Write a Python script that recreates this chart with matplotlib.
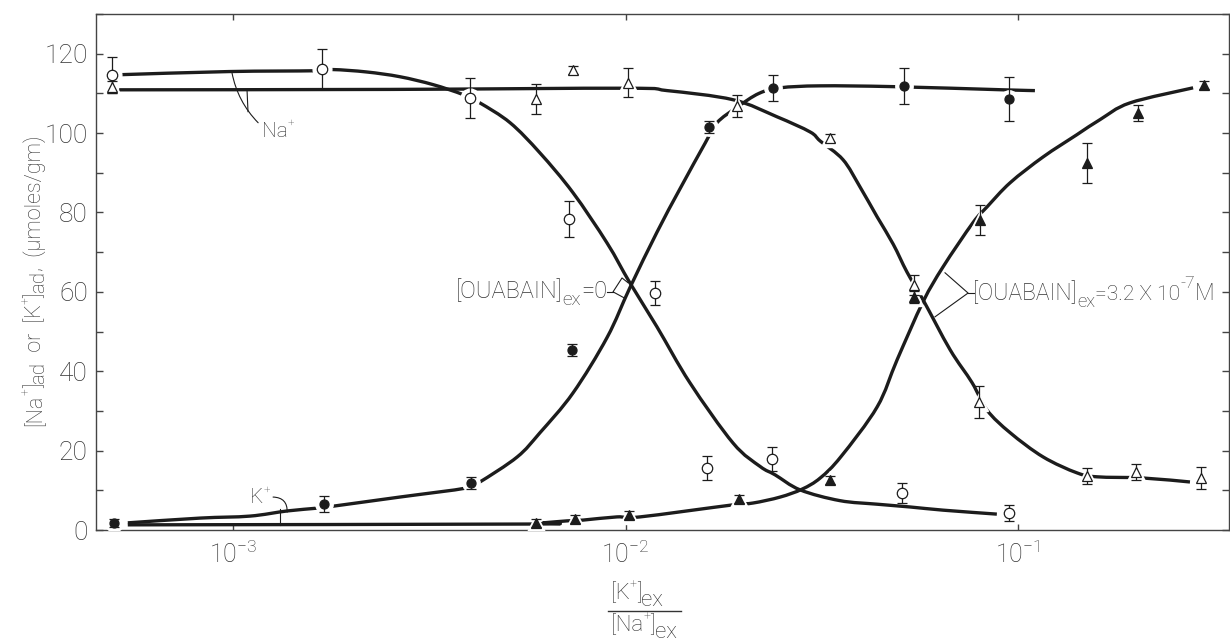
import numpy as np
import matplotlib
matplotlib.use('Agg')
import matplotlib.pyplot as plt
from matplotlib.lines import Line2D
from matplotlib.path import Path
from matplotlib.patches import PathPatch
from matplotlib.ticker import NullLocator, FixedLocator
from matplotlib.transforms import offset_copy

FONT = 'Roboto'
plt.rcParams['font.family'] = [FONT, 'DejaVu Sans']
plt.rcParams['font.weight'] = 'light'
plt.rcParams['mathtext.fontset'] = 'custom'
plt.rcParams['mathtext.rm'] = FONT + ':light'
plt.rcParams['mathtext.default'] = 'regular'

TXT = '#333333'
INK = '#1c1c1c'

# ---------------- data ----------------
# Na+ , ouabain = 0 (open circles)
na0_x = [4.92e-4, 1.69e-3, 4.02e-3, 7.18e-3, 0.0119, 0.01614, 0.0236, 0.0506, 0.0948]
na0_y = [114.7, 116.2, 108.9, 78.4, 59.7, 15.6, 17.9, 9.4, 4.2]
na0_e = [4.5, 5.0, 5.0, 4.5, 3.0, 3.0, 3.0, 2.5, 2.0]

# Na+ , ouabain = 3.2e-7 M (open triangles)
na3_x = [4.92e-4, 5.92e-3, 7.35e-3, 0.01015, 0.01923, 0.0332, 0.0543, 0.0796, 0.150, 0.200, 0.292]
na3_y = [111.6, 108.6, 116.0, 112.7, 106.9, 98.8, 61.8, 32.3, 13.6, 14.6, 13.1]
na3_e = [1.5, 3.7, 1.0, 3.7, 2.8, 1.0, 2.5, 4.0, 2.0, 2.0, 2.7]

# K+ , ouabain = 0 (filled circles)
k0_x = [4.98e-4, 1.71e-3, 4.04e-3, 7.31e-3, 0.01633, 0.02377, 0.0513, 0.0948]
k0_y = [1.8, 6.6, 11.8, 45.4, 101.6, 111.4, 111.9, 108.6]
k0_e = [1.0, 2.0, 1.5, 1.5, 1.5, 3.3, 4.6, 5.5]

# K+ , ouabain = 3.2e-7 M (filled triangles)
k3_x = [5.92e-3, 7.43e-3, 0.01023, 0.01945, 0.0332, 0.0543, 0.080, 0.150, 0.202, 0.298]
k3_y = [1.8, 2.7, 3.8, 7.8, 12.6, 58.7, 78.1, 92.5, 105.1, 112.0]
k3_e = [1.0, 1.0, 1.0, 1.0, 1.0, 1.5, 3.7, 5.0, 2.0, 1.0]

# hand-drawn fitted curves (log10 x, y)
curveA_lx = [-3.290, -3.010, -2.791, -2.745, -2.660, -2.575, -2.490, -2.414, -2.371, -2.294, -2.218,
             -2.134, -2.047, -1.989, -1.920, -1.836, -1.726, -1.657, -1.619, -1.555, -1.454,
             -1.359, -1.275, -1.191, -1.054]
curveA_y = [114.7, 115.5, 115.7, 116.0, 115.4, 114.2, 112.2, 109.7, 107.6, 102.6, 95.0,
            85.0, 72.3, 62.3, 51.2, 37.1, 21.9, 16.0, 13.9, 10.1, 7.4,
            6.5, 5.8, 5.0, 4.0]

curveB_lx = [-3.290, -2.600, -2.000, -1.894, -1.726, -1.614, -1.530, -1.504, -1.446, -1.403, -1.359,
             -1.318, -1.283, -1.242, -1.173, -1.117, -1.079, -1.020, -0.936, -0.850, -0.799, -0.682,
             -0.562]
curveB_y = [110.9, 111.0, 111.3, 110.7, 108.4, 104.1, 100.3, 98.0, 93.3, 86.5, 78.9,
            72.0, 65.0, 58.0, 45.4, 37.1, 30.2, 24.5, 18.4, 14.4, 13.4, 13.1,
            12.1]

curveC_lx = [-3.268, -3.084, -2.957, -2.862, -2.786, -2.745, -2.575, -2.404, -2.371, -2.276, -2.218,
             -2.134, -2.047, -1.989, -1.920, -1.861, -1.797, -1.767, -1.716, -1.660, -1.606, -1.504,
             -1.318, -1.038, -0.957]
curveC_y = [1.8, 3.0, 3.5, 4.8, 5.5, 6.0, 8.3, 10.6, 12.1, 18.4, 24.5,
            34.5, 48.5, 61.0, 75.0, 86.0, 97.5, 102.6, 106.5, 110.0, 111.4, 111.9,
            111.7, 110.9, 110.7]

curveD_lx = [-3.268, -2.251, -2.210, -2.149, -2.108, -2.022, -1.963, -1.729, -1.675, -1.606, -1.550,
             -1.504, -1.451, -1.359, -1.308, -1.242, -1.191, -1.115, -1.079, -1.020, -0.936, -0.850,
             -0.791, -0.715, -0.554]
curveD_y = [1.3, 1.5, 1.8, 2.3, 2.5, 3.3, 3.3, 6.3, 6.8, 8.3, 10.3,
            13.1, 18.5, 31.0, 42.9, 57.5, 66.3, 77.4, 81.4, 87.5, 94.0, 99.6,
            103.4, 107.6, 111.4]

x_ticks = [1e-3, 1e-2, 1e-1]
x_ticklabels = [r'$10^{-3}$', r'$10^{-2}$', r'$10^{-1}$']
y_ticks = [0, 20, 40, 60, 80, 100, 120]

# ---------------- figure ----------------
W, H = 1230, 644
DPI = 100
fig = plt.figure(figsize=(W / DPI, H / DPI), dpi=DPI)
ax = fig.add_axes([96 / W, 1 - 530 / H, (1229 - 96) / W, (530 - 14) / H])
ax.set_xscale('log')
ax.set_xlim(4.477e-4, 0.3447)
ax.set_ylim(0, 130)


def smooth_curve(lx, yy):
    """Smooth (Catmull-Rom -> cubic Bezier) path through the read points."""
    P = np.column_stack([lx, yy]).astype(float)
    n = len(P)
    verts = [P[0]]
    codes = [Path.MOVETO]
    for i in range(n - 1):
        p0 = P[i - 1] if i > 0 else P[i]
        p1, p2 = P[i], P[i + 1]
        p3 = P[i + 2] if i + 2 < n else P[i + 1]
        verts += [p1 + (p2 - p0) / 6.0, p2 - (p3 - p1) / 6.0, p2]
        codes += [Path.CURVE4] * 3
    V = np.array(verts)
    V[:, 0] = 10 ** V[:, 0]
    return Path(V, codes)


for lx, yy in [(curveA_lx, curveA_y), (curveB_lx, curveB_y),
               (curveC_lx, curveC_y), (curveD_lx, curveD_y)]:
    ax.add_patch(PathPatch(smooth_curve(lx, yy), fill=False, edgecolor=INK, lw=2.4,
                           capstyle='butt', joinstyle='round', zorder=2))

series = [
    (na0_x, na0_y, na0_e, 'o', 7.5, 'white'),
    (na3_x, na3_y, na3_e, '^', 7.5, 'white'),
    (k0_x, k0_y, k0_e, 'o', 6.5, INK),
    (k3_x, k3_y, k3_e, '^', 6.5, INK),
]
for x, y, e, m, ms, fc in series:
    ax.plot(x, y, ls='none', marker=m, ms=ms + 6, mfc='white', mec='white', zorder=3)
for x, y, e, m, ms, fc in series:
    ax.errorbar(x, y, yerr=e, fmt='none', ecolor=INK, elinewidth=0.9,
                capsize=3.3, capthick=0.9, zorder=4)
    ax.plot(x, y, ls='none', marker=m, ms=ms, mfc=fc, mec=INK, mew=0.9, zorder=5)

# axes styling
for s in ax.spines.values():
    s.set_color('#444444')
    s.set_linewidth(1.0)
ax.set_xticks(x_ticks)
ax.set_xticklabels(x_ticklabels)
ax.xaxis.set_minor_locator(NullLocator())
ax.tick_params(axis='x', which='major', direction='in', length=4, width=1,
               top=True, pad=8, labelsize=18, labelcolor=TXT, color='#444444')
ax.set_yticks(y_ticks)
ax.yaxis.set_minor_locator(FixedLocator([10, 30, 50, 70, 90, 110, 130]))
ax.tick_params(axis='y', which='both', direction='in', length=5, width=1,
               left=True, right=True, color='#444444')
ax.tick_params(axis='y', which='major', pad=6, labelsize=19, labelcolor=TXT)

renderer = fig.canvas.get_renderer()


def rich(x, y, parts, size, transform, ha='left', rot=0, color=TXT, clip=False):
    """Text made of pieces (string, size factor, rise factor) on one baseline."""
    arts = []
    adv = 0.0
    for s, sf, rise in parts:
        t = fig.text(0, 0, s, fontsize=size * sf, color=color, ha='left', va='baseline',
                     rotation=rot, rotation_mode='anchor', clip_on=clip)
        t.set_transform(transform)
        t.set_position((x, y))
        ext = t.get_window_extent(renderer)
        w = ext.height if rot == 90 else ext.width
        arts.append((t, adv, rise * size * DPI / 72.0))
        adv += w
    shift = {'left': 0.0, 'center': -adv / 2.0, 'right': -adv}[ha]
    for t, a, r in arts:
        if rot == 90:
            ox, oy = -r, a + shift
        else:
            ox, oy = a + shift, r
        t.set_transform(offset_copy(transform, fig=fig, x=ox, y=oy, units='dots'))
    return arts


def fig_px(px, py):
    return px / W, 1 - py / H


# axis labels
SUP = 0.55
ylab = [('[Na', 1, 0), ('+', SUP, 0.5), (']', 1, 0), ('ad', 0.95, -0.15),
        ('  or  [K', 1, 0), ('+', SUP, 0.5), (']', 1, 0), ('ad', 0.95, -0.15),
        (',  (μmoles/gm)', 1, 0)]
rich(*fig_px(41, 281), ylab, 15.5, fig.transFigure, ha='center', rot=90)

num = [('[K', 1, 0), ('+', SUP, 0.5), (']', 1, 0), ('ex', 1, -0.3)]
den = [('[Na', 1, 0), ('+', SUP, 0.5), (']', 1, 0), ('ex', 1, -0.3)]
rich(*fig_px(611, 599), num, 16, fig.transFigure)
fig.add_artist(Line2D([608 / W, 681 / W], [1 - 611 / H, 1 - 611 / H], color=TXT, lw=1))
rich(*fig_px(611, 631), den, 16, fig.transFigure)

# annotations
lk = dict(color=INK, lw=0.8, zorder=6)
rich(1.186e-3, 99.1, [('Na', 1, 0), ('+', SUP, 0.5)], 15, ax.transData)
ax.annotate('', xy=(9.94e-4, 115.2), xytext=(1.159e-3, 102.6),
            arrowprops=dict(arrowstyle='-', connectionstyle='arc3,rad=-0.15',
                            lw=0.8, color=INK, shrinkA=0, shrinkB=0))
ax.plot([1.092e-3, 1.086e-3], [105.4, 110.7], **lk)

rich(1.104e-3, 6.8, [('K', 1, 0), ('+', SUP, 0.5)], 15, ax.transData)
ax.annotate('', xy=(1.374e-3, 4.5), xytext=(1.265e-3, 8.3),
            arrowprops=dict(arrowstyle='-', connectionstyle='arc3,rad=-0.5',
                            lw=0.8, color=INK, shrinkA=0, shrinkB=0))
ax.plot([1.318e-3, 1.318e-3], [5.3, 1.3], **lk)

rich(0.00897, 58.5, [('[OUABAIN]', 1, 0), ('ex', 0.8, -0.3), ('=0', 1, 0)], 17,
     ax.transData, ha='right')
ax.plot([0.010148, 0.009797, 0.009294, 0.009913], [62.3, 63.5, 60.0, 58.5], **lk)
ax.plot([0.008972, 0.009294], [60.0, 60.0], **lk)

rich(0.0770, 58.0, [('[OUABAIN]', 1, 0), ('ex', 0.8, -0.3), ('=3.2 X 10', 0.92, 0),
                    ('-7', 0.75, 0.5), ('M', 1, 0)], 16.5, ax.transData)
ax.plot([0.06516, 0.07459, 0.06143], [64.8, 59.7, 53.7], **lk)
ax.plot([0.07459, 0.07725], [59.7, 59.7], **lk)

fig.savefig('out.png', dpi=DPI, facecolor='white')
